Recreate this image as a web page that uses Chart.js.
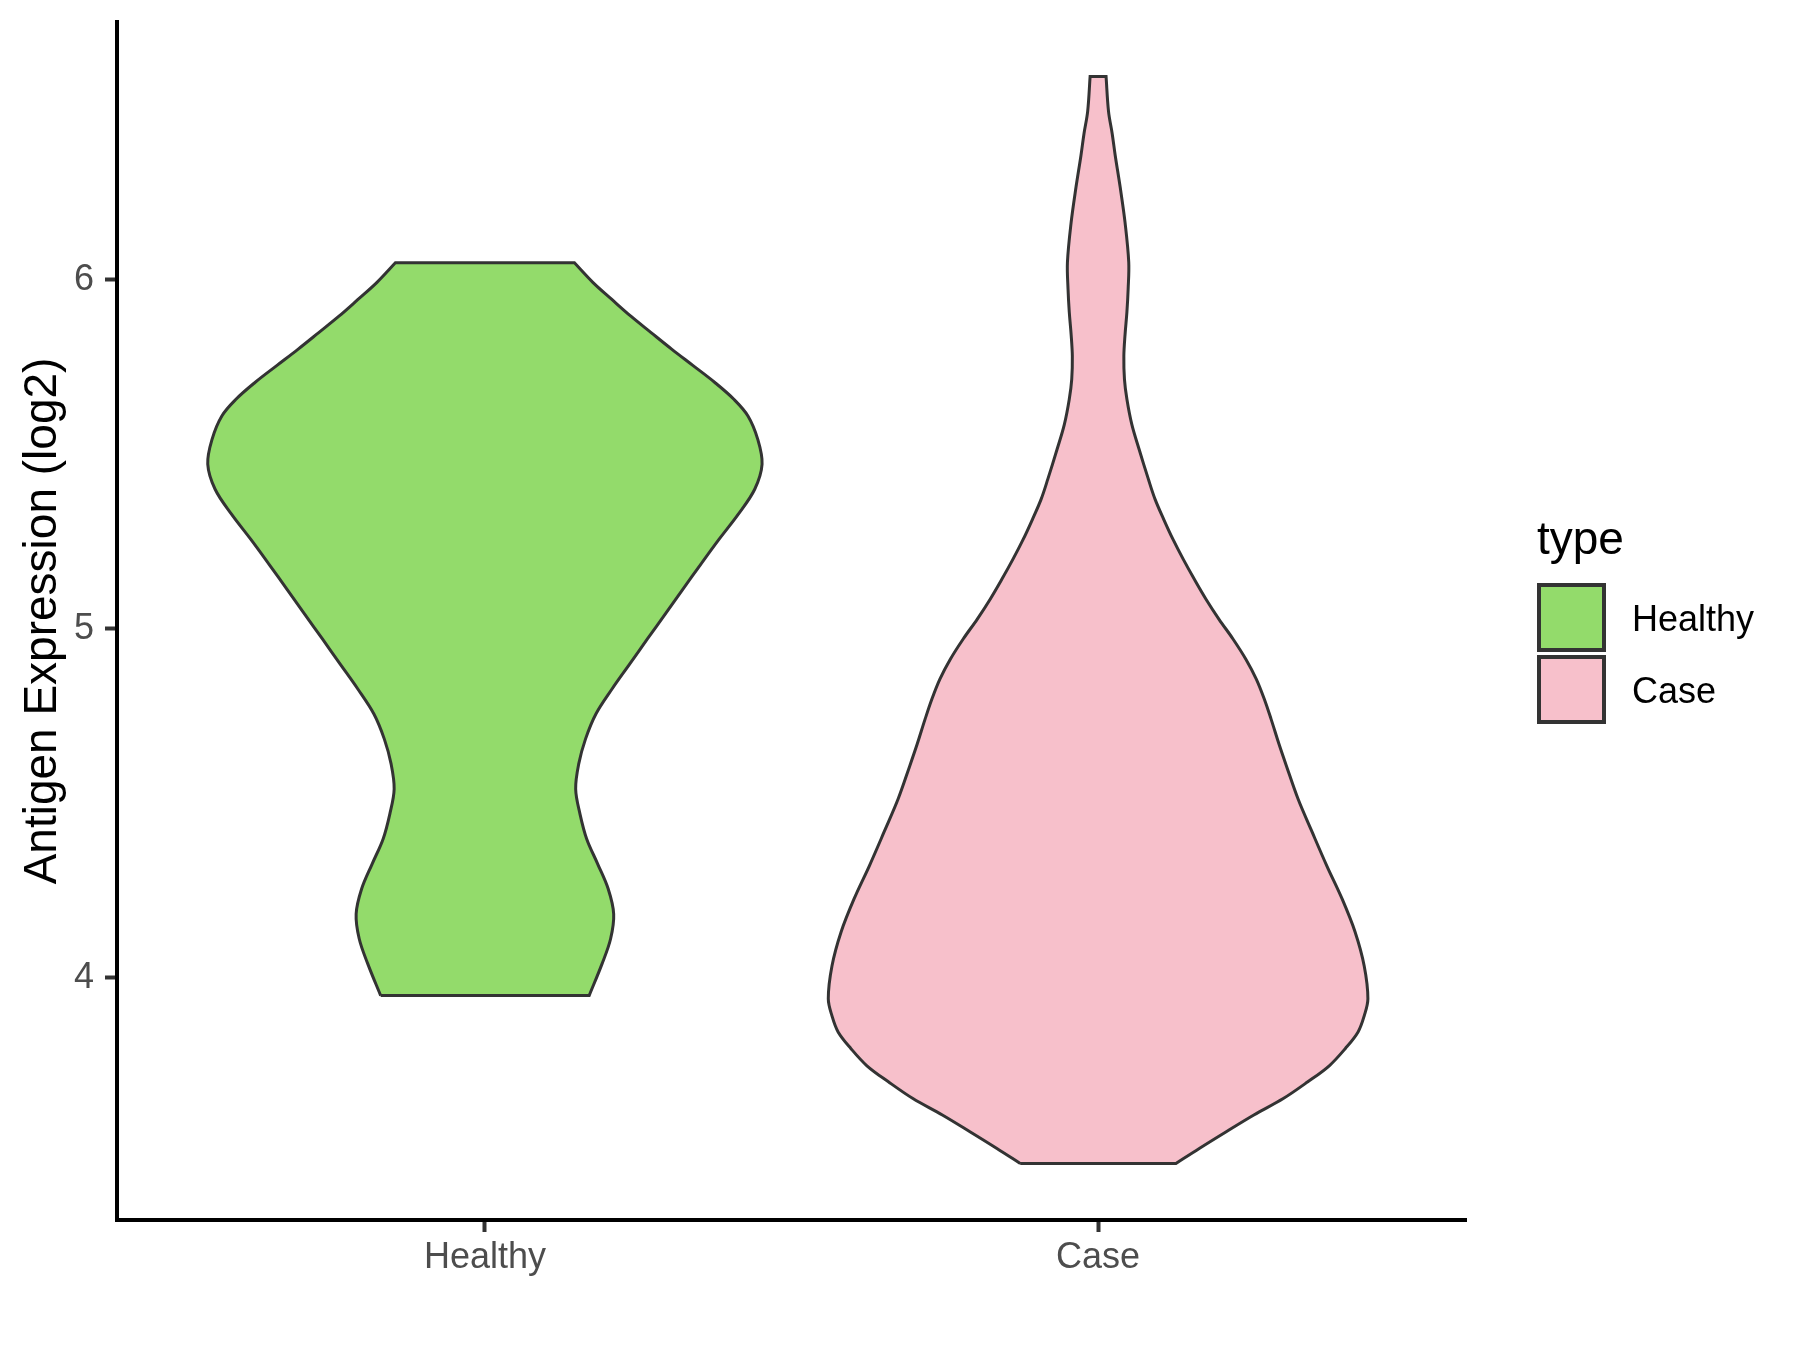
<!DOCTYPE html>
<html>
<head>
<meta charset="utf-8">
<title>Antigen Expression violin</title>
<script src="https://cdn.jsdelivr.net/npm/chart.js@4.4.1/dist/chart.umd.min.js"></script>
<style>
  html, body { margin: 0; padding: 0; background: #fff; }
  #wrap { width: 1800px; height: 1350px; position: relative; }
</style>
</head>
<body>
<div id="wrap"><canvas id="chart"></canvas></div>
<script>
const categories = ['Healthy', 'Case'];
const yTicks = [4, 5, 6];
const yTitle = 'Antigen Expression (log2)';
const legendTitle = 'type';

// violin outlines: value (log2, bottom to top) and half width (x units)
const healthyValues = [3.949, 4.040, 4.112, 4.183, 4.255, 4.326, 4.398, 4.470, 4.541, 4.613, 4.684, 4.756, 4.827, 4.899, 4.971, 5.042, 5.114, 5.185, 5.257, 5.328, 5.400, 5.472, 5.543, 5.610, 5.658, 5.706, 5.755, 5.801, 5.849, 5.896, 5.944, 5.993, 6.049];
const healthyHalfWidths = [0.170, 0.191, 0.205, 0.210, 0.201, 0.184, 0.166, 0.155, 0.148, 0.153, 0.164, 0.181, 0.207, 0.236, 0.265, 0.294, 0.323, 0.352, 0.382, 0.413, 0.440, 0.452, 0.445, 0.429, 0.406, 0.375, 0.339, 0.305, 0.271, 0.238, 0.207, 0.176, 0.146];

const caseValues = [3.468, 3.511, 3.559, 3.607, 3.654, 3.702, 3.748, 3.797, 3.845, 3.891, 3.940, 4.034, 4.132, 4.226, 4.321, 4.418, 4.513, 4.608, 4.670, 4.742, 4.799, 4.856, 4.913, 4.971, 5.028, 5.085, 5.142, 5.199, 5.257, 5.314, 5.371, 5.429, 5.514, 5.586, 5.658, 5.715, 5.781, 5.844, 5.908, 5.973, 6.050, 6.164, 6.266, 6.356, 6.419, 6.483, 6.583];
const caseHalfWidths = [0.127, 0.165, 0.209, 0.254, 0.302, 0.342, 0.377, 0.403, 0.424, 0.434, 0.440, 0.434, 0.419, 0.398, 0.373, 0.349, 0.326, 0.307, 0.295, 0.282, 0.271, 0.258, 0.241, 0.220, 0.197, 0.176, 0.157, 0.139, 0.122, 0.107, 0.093, 0.082, 0.067, 0.055, 0.047, 0.043, 0.042, 0.044, 0.047, 0.049, 0.050, 0.044, 0.036, 0.028, 0.023, 0.017, 0.013];

const FONT = '"Liberation Sans", Arial, sans-serif';
Chart.defaults.font.family = FONT;

// closed outline: up the left side, across the top, down the right side.
// corner points are doubled so the trimmed ends stay flat and sharp
function outline(center, values, halfWidths) {
  const left = values.map((v, i) => ({ x: center - halfWidths[i], y: v }));
  const right = values.map((v, i) => ({ x: center + halfWidths[i], y: v })).reverse();
  const pts = [];
  [left, right].forEach(side => {
    side.forEach((p, i) => {
      pts.push(p);
      if (i === 0 || i === side.length - 1) pts.push({ x: p.x, y: p.y });
    });
  });
  pts.push({ x: left[0].x, y: left[0].y });
  return pts;
}

const violinStyle = {
  showLine: true,
  fill: 'shape',
  tension: 0.35,
  borderColor: '#333333',
  borderWidth: 3,
  pointRadius: 0,
  pointHoverRadius: 0
};

const legendBoxes = {
  id: 'legendBoxes',
  afterDraw(chart) {
    const ctx = chart.ctx;
    const x0 = chart.chartArea.right + 71;
    ctx.save();
    ctx.fillStyle = '#000000';
    ctx.textBaseline = 'alphabetic';
    ctx.textAlign = 'left';
    ctx.font = '46px ' + FONT;
    ctx.fillText(legendTitle, x0, 554);
    chart.data.datasets.forEach((ds, i) => {
      const top = 585 + i * 72;
      ctx.fillStyle = ds.backgroundColor;
      ctx.fillRect(x0 + 2, top, 65, 65);
      ctx.strokeStyle = '#333333';
      ctx.lineWidth = 4;
      ctx.strokeRect(x0 + 2, top, 65, 65);
      ctx.fillStyle = '#000000';
      ctx.font = '36px ' + FONT;
      ctx.fillText(ds.label, x0 + 95, top + 46);
    });
    ctx.restore();
  }
};

new Chart(document.getElementById('chart'), {
  type: 'scatter',
  data: {
    datasets: [
      Object.assign({ label: categories[0], data: outline(1, healthyValues, healthyHalfWidths), backgroundColor: '#93DB6B' }, violinStyle),
      Object.assign({ label: categories[1], data: outline(2, caseValues, caseHalfWidths), backgroundColor: '#F7C0CB' }, violinStyle)
    ]
  },
  options: {
    responsive: true,
    maintainAspectRatio: false,
    animation: false,
    events: [],
    layout: { padding: { top: 22, right: 334, bottom: 0, left: 0 } },
    plugins: {
      legend: { display: false },
      tooltip: { enabled: false }
    },
    scales: {
      x: {
        type: 'linear',
        min: 0.4,
        max: 2.6,
        afterBuildTicks: s => { s.ticks = categories.map((c, i) => ({ value: i + 1 })); },
        afterFit: s => { s.height = 130; s.paddingLeft = 0; s.paddingRight = 0; },
        ticks: {
          callback: v => categories[v - 1],
          color: '#4D4D4D',
          font: { size: 36 },
          padding: 4,
          maxRotation: 0,
          autoSkip: false
        },
        grid: { drawOnChartArea: false, tickLength: 12, tickWidth: 4, tickColor: '#333333' },
        border: { display: true, color: '#000000', width: 4 }
      },
      y: {
        min: 3.306,
        max: 6.739,
        afterBuildTicks: s => { s.ticks = yTicks.map(v => ({ value: v })); },
        afterFit: s => { s.width = 117; s.paddingTop = 0; s.paddingBottom = 0; },
        ticks: {
          color: '#4D4D4D',
          font: { size: 36 },
          padding: 11
        },
        grid: { drawOnChartArea: false, tickLength: 12, tickWidth: 4, tickColor: '#333333' },
        border: { display: true, color: '#000000', width: 4 },
        title: {
          display: true,
          text: yTitle,
          color: '#000000',
          font: { size: 46 },
          padding: { top: 16, bottom: 0 }
        }
      }
    }
  },
  plugins: [legendBoxes]
});
</script>
</body>
</html>
